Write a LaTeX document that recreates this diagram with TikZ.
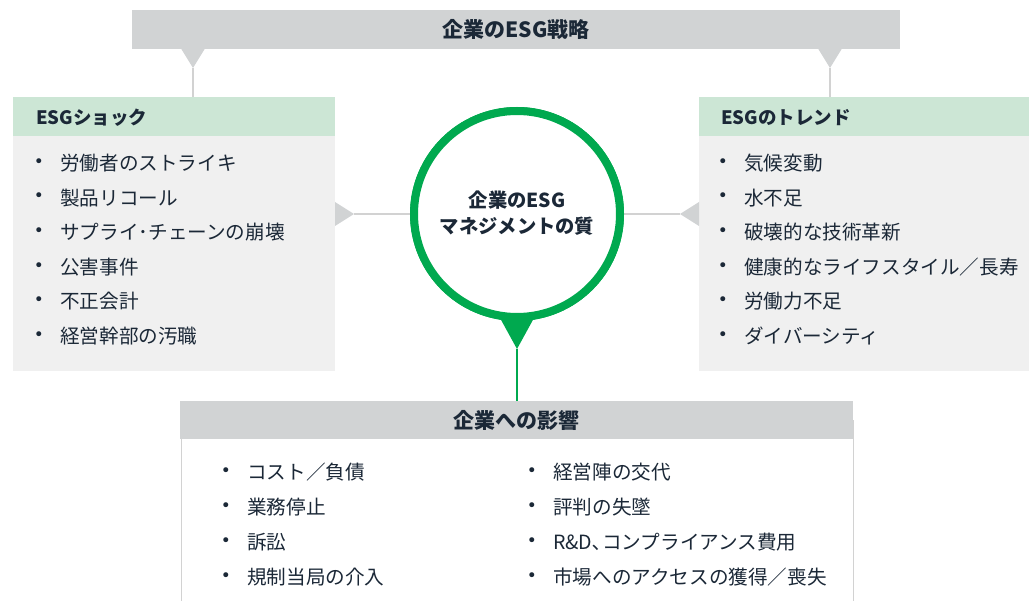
\documentclass[tikz,border=0pt]{standalone}
\usepackage{fontspec}
\setmainfont{Noto Sans CJK JP}
\newfontfamily\bulfont{DejaVu Sans}
\definecolor{ink}{HTML}{1B2837}
\definecolor{esggreen}{HTML}{00A94F}
\definecolor{lightgreen}{HTML}{CCE6D5}
\definecolor{bargray}{HTML}{D1D3D4}
\definecolor{bodygray}{HTML}{F0F0F0}
\definecolor{linegray}{HTML}{D2D2D2}
\begin{document}
\begin{tikzpicture}[x=1pt,y=-1pt,
  item/.style={anchor=west, inner sep=0pt, font=\fontsize{19.6}{22}\selectfont, text=ink},
  bul/.style={anchor=center, inner sep=0pt, font=\bulfont\fontsize{17}{19}\selectfont, text=ink},
  headtxt/.style={inner sep=0pt, font=\bfseries\fontsize{18.5}{22}\selectfont, text=ink},
  titletxt/.style={inner sep=0pt, font=\bfseries\fontsize{21}{24}\selectfont, text=ink},
  band/.style={inner sep=0pt, anchor=north west},
  pointer/.style={fill=bargray, draw=none},
  conn/.style={draw=linegray, line width=1.3pt}]
\useasboundingbox (0,0) rectangle (1029,601);
% top bar
\node[band, fill=bargray, minimum width=768pt, minimum height=39pt] (strat) at (132,10) {};
\node[titletxt] (strattxt) at (516,29) {企業のESG戦略};
% left box
\node[band, fill=lightgreen, minimum width=322pt, minimum height=39pt] (lhead) at (13,97) {};
\node[band, fill=bodygray, minimum width=322pt, minimum height=235pt] (lbody) at (13,136) {};
\node[headtxt, anchor=west] (lheadtxt) at (36,118) {ESGショック};
% right box
\node[band, fill=lightgreen, minimum width=330pt, minimum height=39pt] (rhead) at (699,97) {};
\node[band, fill=bodygray, minimum width=330pt, minimum height=235pt] (rbody) at (699,136) {};
\node[headtxt, anchor=west] (rheadtxt) at (721,118) {ESGのトレンド};
% bottom box
\node[band, fill=white, draw=linegray, line width=1pt, minimum width=672pt, minimum height=200pt] (bbody) at (180.5,420) {};
\node[band, fill=bargray, minimum width=673pt, minimum height=38pt] (bhead) at (180,401) {};
\node[titletxt] (bheadtxt) at (516.5,420) {企業への影響};
% pointers from top bar
\coordinate (tl) at (193,68);
\coordinate (tr) at (830,68);
\fill[pointer] (181,48.5) -- (205,48.5) -- (tl) -- cycle;
\fill[pointer] (818,48.5) -- (842,48.5) -- (tr) -- cycle;
\draw[conn] (tl) -- (tl |- lhead.north);
\draw[conn] (tr) -- (tr |- rhead.north);
% circle
\coordinate (lp) at (354,214);
\coordinate (rp) at (680,214);
\node[circle, draw=esggreen, line width=8pt, fill=white, minimum size=206pt, inner sep=0pt] (core) at (517,214) {};
\draw[conn] (lp) -- (core.west);
\draw[conn] (rp) -- (core.east);
\node[circle, draw=esggreen, line width=8pt, fill=white, minimum size=206pt, inner sep=0pt] (core2) at (517,214) {};
\node[headtxt, font=\bfseries\fontsize{19.3}{26}\selectfont, align=center] (coretxt) at (517,213) {企業のESG\\マネジメントの質};
\fill[pointer] (335,202) -- (335,226) -- (lp) -- cycle;
\fill[pointer] (699,202) -- (699,226) -- (rp) -- cycle;
% bottom pointer
\coordinate (bp) at (517,349);
\fill[esggreen] (500,318) -- (534,318) -- (bp) -- cycle;
\draw[draw=esggreen, line width=1.3pt] (bp) -- (bp |- bhead.north);
% left items
\foreach \t [count=\i] in {労働者のストライキ,製品リコール,サプライ･チェーンの崩壊,公害事件,不正会計,経営幹部の汚職}{
  \node[bul] (lb\i) at (39,{163+34.6*(\i-1)}) {•};
  \node[item] (li\i) at (60,{163+34.6*(\i-1)}) {\t};
}
% right items
\foreach \t [count=\i] in {気候変動,水不足,破壊的な技術革新,健康的なライフスタイル／長寿,労働力不足,ダイバーシティ}{
  \node[bul] (rb\i) at (723,{163+34.6*(\i-1)}) {•};
  \node[item] (ri\i) at (744,{163+34.6*(\i-1)}) {\t};
}
% bottom items
\foreach \t [count=\i] in {コスト／負債,業務停止,訴訟,規制当局の介入}{
  \node[bul] (bl\i) at (226,{472+35*(\i-1)}) {•};
  \node[item] (bli\i) at (247,{472+35*(\i-1)}) {\t};
}
\foreach \t [count=\i] in {経営陣の交代,評判の失墜,R\&D､コンプライアンス費用,市場へのアクセスの獲得／喪失}{
  \node[bul] (br\i) at (532,{472+35*(\i-1)}) {•};
  \node[item] (bri\i) at (553,{472+35*(\i-1)}) {\t};
}
\end{tikzpicture}
\end{document}
